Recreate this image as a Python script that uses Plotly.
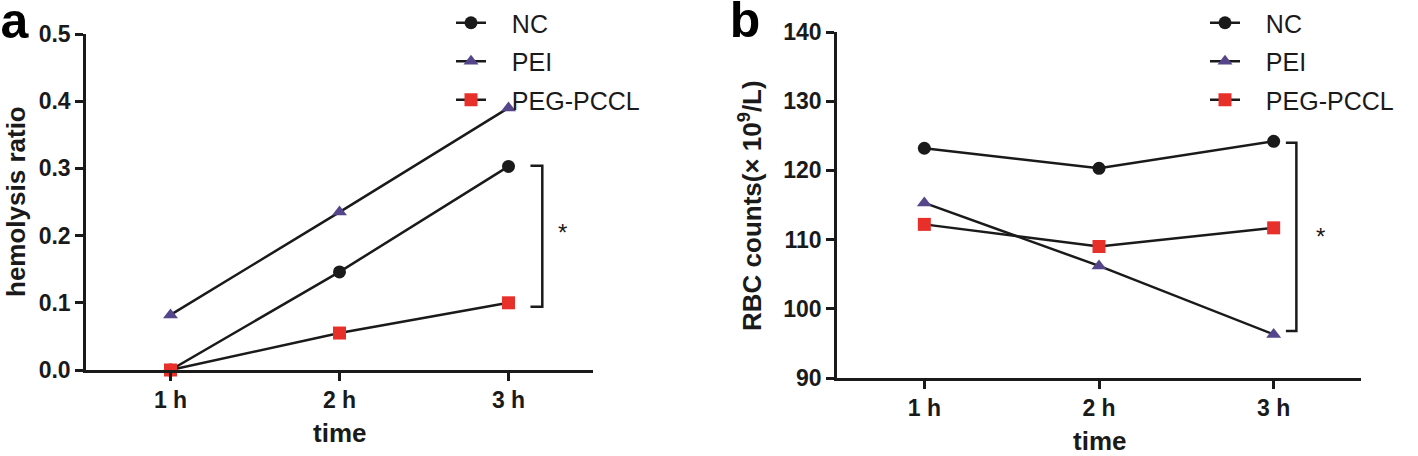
import plotly.graph_objects as go

times = ["1 h", "2 h", "3 h"]
xpos = [1, 2, 3]

# Panel a: hemolysis ratio
a_nc = [0.0, 0.146, 0.303]
a_pei = [0.082, 0.235, 0.390]
a_peg = [0.0, 0.055, 0.100]

# Panel b: RBC counts
b_nc = [123.2, 120.3, 124.2]
b_pei = [115.3, 106.2, 96.3]
b_peg = [112.2, 109.0, 111.7]

series = ["NC", "PEI", "PEG-PCCL"]
colors = {"NC": "#1a1a1a", "PEI": "#55468c", "PEG-PCCL": "#e8302a"}
symbols = {"NC": "circle", "PEI": "triangle-up", "PEG-PCCL": "square"}

FONT = "Arial, Liberation Sans, sans-serif"
LINE = "#1a1a1a"

W, H = 1418, 456


def fx(p):
    return p / W


def fy(p):
    return 1 - p / H


fig = go.Figure()

for name, ya, yb in zip(series, [a_nc, a_pei, a_peg], [b_nc, b_pei, b_peg]):
    for vals, xa, ya_ax, leg in [(ya, "x", "y", "legend"), (yb, "x2", "y2", "legend2")]:
        fig.add_trace(go.Scatter(
            x=xpos, y=vals, xaxis=xa, yaxis=ya_ax, name="\u00a0\u00a0\u00a0" + name, legend=leg,
            legendgroup=name + leg,
            mode="lines+markers",
            line=dict(color=LINE, width=2.5),
            marker=dict(symbol=symbols[name], size=13, color=colors[name],
                        line=dict(width=0)),
            cliponaxis=False,
        ))

axis_common = dict(
    showline=True, linecolor=LINE, linewidth=2.5, ticks="outside", tickwidth=2.5,
    ticklen=8, tickcolor=LINE, showgrid=False, zeroline=False, automargin=False,
    tickfont=dict(family=FONT, size=23, color="#1a1a1a", weight="bold"),
)

legend_common = dict(
    xanchor="left", yanchor="top", tracegroupgap=3,
    font=dict(family=FONT, size=25, color="#1a1a1a"), bgcolor="rgba(0,0,0,0)",
    itemwidth=30,
)

fig.update_layout(
    template="none",
    width=W, height=H, margin=dict(l=0, r=0, t=0, b=0, autoexpand=False),
    plot_bgcolor="white", paper_bgcolor="white", showlegend=True,
    xaxis=dict(domain=[fx(86), fx(593)], range=[0.5, 3.5], tickvals=xpos, ticktext=times,
               anchor="y", **axis_common),
    yaxis=dict(domain=[fy(370), fy(34)], range=[0, 0.5], tickvals=[0, 0.1, 0.2, 0.3, 0.4, 0.5],
               tickformat=".1f", anchor="x", **axis_common),
    xaxis2=dict(domain=[fx(837), fx(1361)], range=[0.5, 3.5], tickvals=xpos, ticktext=times,
                anchor="y2", **axis_common),
    yaxis2=dict(domain=[fy(378), fy(32)], range=[90, 140], tickvals=[90, 100, 110, 120, 130, 140],
                anchor="x2", **axis_common),
    legend=dict(x=fx(451), y=1.0, **legend_common),
    legend2=dict(x=fx(1205), y=1.0, **legend_common),
)

# significance brackets (data coordinates)
br_a = dict(x_tick=3.13, x_bar=3.2, y_top=0.304, y_bot=0.094, star_x=3.32, star_y=0.204)
br_b = dict(x_tick=3.07, x_bar=3.13, y_top=124.0, y_bot=96.8, star_x=3.27, star_y=110.5)
for br, xr, yr in [(br_a, "x", "y"), (br_b, "x2", "y2")]:
    fig.add_trace(go.Scatter(
        x=[br["x_tick"], br["x_bar"], br["x_bar"], br["x_tick"]],
        y=[br["y_top"], br["y_top"], br["y_bot"], br["y_bot"]],
        xaxis=xr, yaxis=yr, mode="lines", line=dict(color=LINE, width=2.5),
        showlegend=False, hoverinfo="skip", cliponaxis=False,
    ))
    fig.add_annotation(x=br["star_x"], y=br["star_y"], xref=xr, yref=yr, text="*",
                       xanchor="center", yanchor="middle",
                       showarrow=False, font=dict(family=FONT, size=24, color="#1a1a1a"))

title_font = dict(family=FONT, size=26, color="#1a1a1a", weight="bold")


def label(x, y, text, font, angle=0, **kw):
    fig.add_annotation(x=fx(x), y=fy(y), xref="paper", yref="paper", text=text,
                       textangle=angle, showarrow=False, xanchor="center", yanchor="middle",
                       font=font, **kw)


label(16, 202, "hemolysis ratio", title_font, -90)
label(750, 205, "RBC counts(× 10<sup>9</sup>/L)", title_font, -90)
label(339, 433, "time", title_font)
label(1099, 441, "time", title_font)

# panel letters
letter_font = dict(family=FONT, size=50, color="black", weight="bold")
label(15, 21, "a", letter_font, height=40, width=32)
label(745, 20, "b", letter_font, height=40, width=32)

# remove the default page margin so the figure sits at the window's corner
fig.write_html("out.html", post_script="document.body.style.margin='0';",
               config={"displayModeBar": False})
